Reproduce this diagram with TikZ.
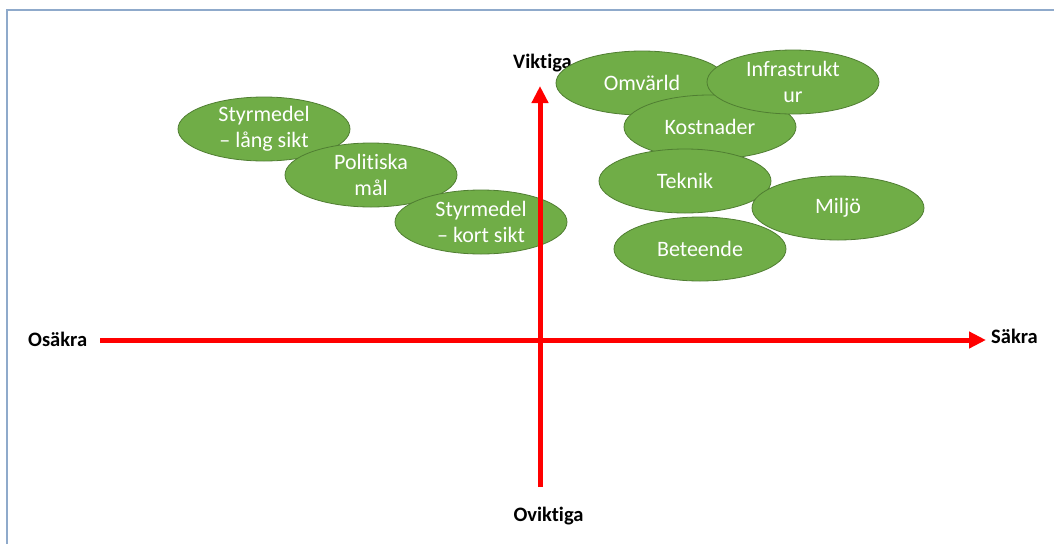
\documentclass[tikz,border=0pt]{standalone}
\usepackage{fontspec}
\setmainfont{Carlito}[Ligatures={NoCommon,TeX}]
\usetikzlibrary{arrows.meta,shapes.geometric}
\definecolor{blobfill}{HTML}{70AD47}
\definecolor{blobline}{HTML}{507E32}
\definecolor{framecol}{HTML}{8FAACB}
\begin{document}
\begin{tikzpicture}[x=1pt,y=-1pt,
  blob/.style={ellipse,draw=blobline,line width=0.8pt,fill=blobfill,
    minimum width=172pt,minimum height=64pt,inner sep=0pt,
    text=white,align=center,font=\fontsize{22}{26}\selectfont},
  axislabel/.style={font=\fontsize{20.5}{24}\selectfont\bfseries,inner sep=0pt},
  axis/.style={red,line width=5pt,-{Triangle[length=17pt,width=16pt]}}]
\useasboundingbox (0,0) rectangle (1054,544);
% frame
\draw[framecol,line width=2pt] (7,544) -- (7,10) -- (1054,10);
% axis labels
\node[axislabel,anchor=base] (vik) at (542.5,68) {Viktiga};
\node[axislabel,anchor=base] (ovik) at (548.5,521) {Oviktiga};
\node[axislabel,anchor=base west] (osa) at (28,346) {Osäkra};
\node[axislabel,anchor=base west] (sak) at (991,343) {Säkra};
% axis end points
\coordinate (xl) at (100,340);
\coordinate (xr) at (986,340);
\coordinate (yb) at (540,487);
\coordinate (yt) at (540,86);
% left group
\node[blob] (lang) at (264,129) {Styrmedel\\– lång sikt};
\node[blob] (pol) at (371,175) {Politiska\\mål};
\node[blob] (kort) at (481,222) {Styrmedel\\– kort sikt};
% right group
\node[blob] (omv) at (642,83) {Omvärld};
\node[blob] (kost) at (710,127) {Kostnader};
\node[blob] (tek) at (685,181) {Teknik};
\node[blob] (infra) at (793,82) {Infrastrukt\\ur};
\node[blob] (milj) at (838,208) {Miljö};
\node[blob] (bet) at (700,249) {Beteende};
% axes
\draw[axis] (xl) -- (xr);
\draw[axis] (yb) -- (yt);
\end{tikzpicture}
\end{document}
